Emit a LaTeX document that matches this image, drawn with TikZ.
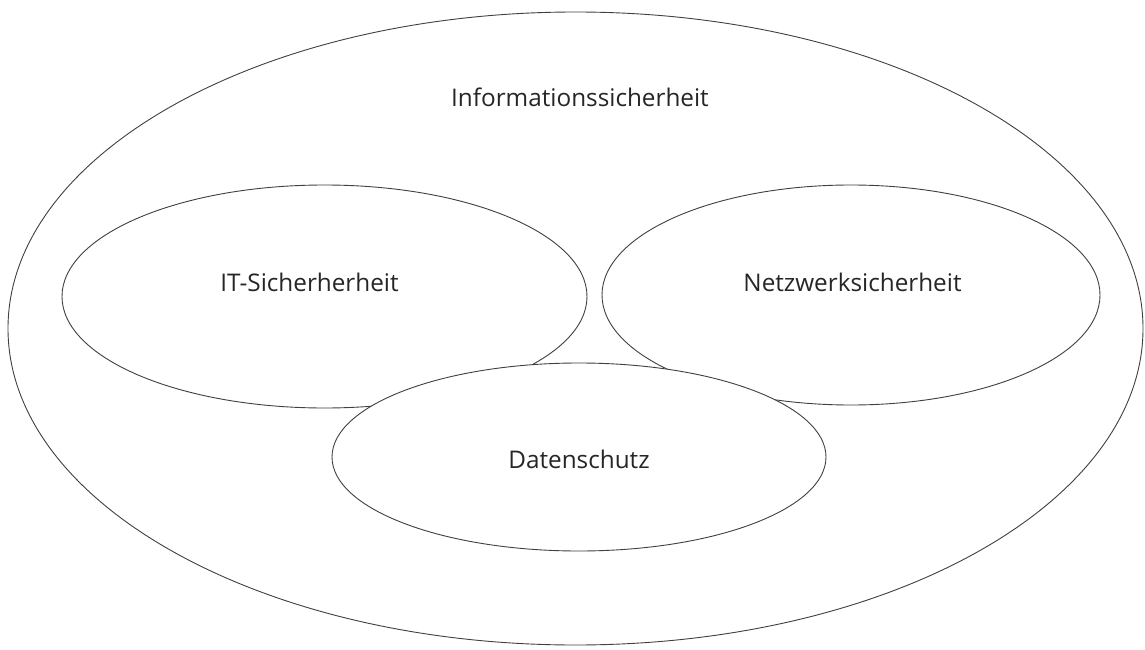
\documentclass[tikz,border=0pt]{standalone}
\usepackage{fontspec}
\setmainfont{Open Sans}
\begin{document}
\begin{tikzpicture}[x=1pt,y=-1pt,
  ring/.style={draw=black!75,line width=0.9pt,fill=white},
  lbl/.style={font=\fontsize{24.3}{29}\selectfont,text=black!85,anchor=base,inner sep=0pt}]
\useasboundingbox (0,0) rectangle (1145,650);
% outer area
\draw[ring] (575.5,328.5) ellipse [x radius=567.5,y radius=316.5];
\node[lbl] (info) at (580,107) {Informationssicherheit};
% inner areas
\draw[ring] (324.5,296.5) ellipse [x radius=262.5,y radius=111.5];
\draw[ring] (851,295) ellipse [x radius=249,y radius=110];
\draw[ring] (579,457) ellipse [x radius=247,y radius=94];
\node[lbl] (it) at (309.5,291) {IT-Sicherherheit};
\node[lbl] (netz) at (852.5,291) {Netzwerksicherheit};
\node[lbl] (daten) at (579,468) {Datenschutz};
\end{tikzpicture}
\end{document}
